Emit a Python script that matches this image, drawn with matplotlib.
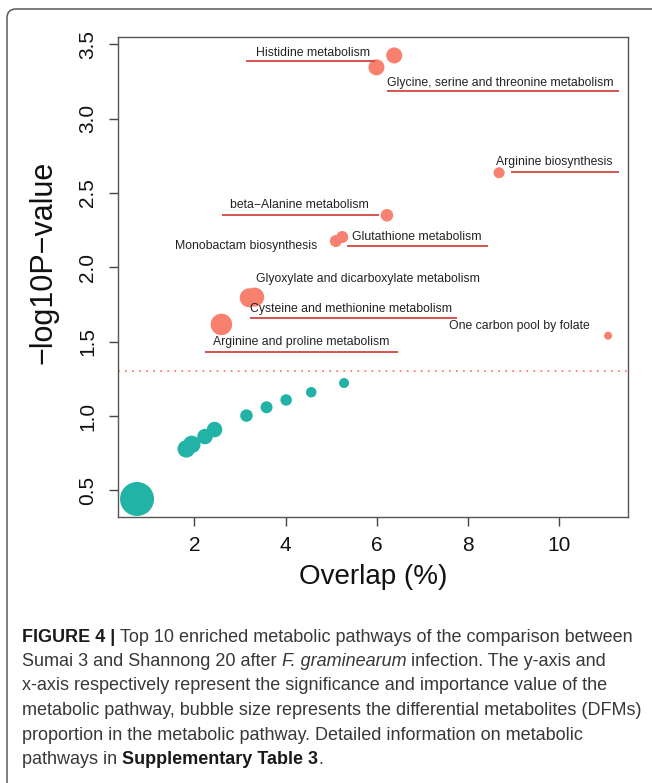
import math

import matplotlib
matplotlib.use("Agg")
import matplotlib.pyplot as plt
import matplotlib.patches as mpatches
import matplotlib.transforms as mtransforms
from matplotlib import font_manager

# ---- enriched pathways (significant, p < 0.05) ----
sig_names = [
    "Histidine metabolism",
    "Glycine, serine and threonine metabolism",
    "Arginine biosynthesis",
    "beta\u2212Alanine metabolism",
    "Glutathione metabolism",
    "Monobactam biosynthesis",
    "Glyoxylate and dicarboxylate metabolism",
    "Cysteine and methionine metabolism",
    "Arginine and proline metabolism",
    "One carbon pool by folate",
]
sig_overlap = [5.99, 6.38, 8.68, 6.22, 5.24, 5.10, 3.32, 3.20, 2.59, 11.07]
sig_logp = [3.345, 3.425, 2.636, 2.350, 2.204, 2.177, 1.800, 1.795, 1.616, 1.540]
sig_bubble = [16, 16, 11, 12.5, 12, 12, 19, 19, 21.5, 8]

# ---- remaining pathways (not significant) ----
ns_overlap = [0.74, 1.82, 1.94, 2.23, 2.44, 3.14, 3.58, 4.01, 4.56, 5.28]
ns_logp = [0.442, 0.779, 0.809, 0.862, 0.909, 1.003, 1.059, 1.108, 1.160, 1.222]
ns_bubble = [34, 17.5, 17.5, 15.5, 15.5, 12.5, 12, 11.5, 10.5, 10]

p_cutoff = 0.05
x_ticks = [2, 4, 6, 8, 10]
y_ticks = [0.5, 1.0, 1.5, 2.0, 2.5, 3.0, 3.5]

# label layout: (text x, text y, underline x0, underline x1, underline y)
label_layout = [
    (3.35, 3.439, 3.12, 5.95, 3.385),
    (6.23, 3.240, 6.23, 11.32, 3.184),
    (8.62, 2.710, 8.95, 11.30, 2.638),
    (2.77, 2.420, 2.61, 6.05, 2.352),
    (5.45, 2.204, 5.35, 8.43, 2.144),
    (1.57, 2.144, None, None, None),
    (3.34, 1.919, None, None, None),
    (3.22, 1.717, 3.22, 7.76, 1.661),
    (2.41, 1.497, 2.24, 6.47, 1.432),
    (7.58, 1.605, None, None, None),
]

W, H, DPI = 652, 783, 100
fig = plt.figure(figsize=(W / DPI, H / DPI), dpi=DPI)
fig.patch.set_facecolor("white")

available = {f.name for f in font_manager.fontManager.ttflist}
base_font = "Liberation Sans" if "Liberation Sans" in available else "DejaVu Sans"
plt.rcParams["font.family"] = [base_font, "DejaVu Sans"]

# outer frame with rounded top-left corner
frame = mpatches.FancyBboxPatch(
    (7, -60), 720, 783 - 9 + 60,
    boxstyle="round,pad=0,rounding_size=9",
    transform=mtransforms.IdentityTransform(),
    facecolor="none", edgecolor="#5a5a5a", linewidth=1.1, zorder=0,
)
fig.patches.append(frame)

ax_l, ax_r, ax_t, ax_b = 117.7, 627.7, 36.7, 516.7
ax = fig.add_axes([ax_l / W, 1 - ax_b / H, (ax_r - ax_l) / W, (ax_b - ax_t) / H])

salmon = "#F8806F"
teal = "#22B2A6"
line_red = "#D2463F"


def px_area(d):
    return (d * 72.0 / DPI) ** 2


ax.scatter(ns_overlap, ns_logp, s=[px_area(d) for d in ns_bubble],
           color=teal, edgecolors="none", zorder=3)
ax.scatter(sig_overlap, sig_logp, s=[px_area(d) for d in sig_bubble],
           color=salmon, edgecolors="none", zorder=3)

ax.axhline(-math.log10(p_cutoff), color=salmon, linewidth=1.3,
           linestyle=(0, (1, 2.9)), zorder=2)

for name, lay in zip(sig_names, label_layout):
    tx, ty, ux0, ux1, uy = lay
    ax.text(tx, ty, name, ha="left", va="center", fontsize=8.8,
            color="#222222", zorder=4)
    if ux0 is not None:
        ax.plot([ux0, ux1], [uy, uy], color=line_red, linewidth=1.3,
                solid_capstyle="butt", zorder=4)

ax.set_xlim(0.316, 11.5)
ax.set_ylim(0.323, 3.551)
ax.set_xticks(x_ticks)
ax.set_xticklabels([str(v) for v in x_ticks])
ax.set_yticks(y_ticks)
ax.set_yticklabels([f"{v:.1f}" for v in y_ticks], rotation=90, va="center")
ax.tick_params(axis="both", length=6.7, width=1.0, color="#444444",
               labelsize=15, labelcolor="#111111")
ax.tick_params(axis="x", pad=7)
ax.tick_params(axis="y", pad=8)
for sp in ax.spines.values():
    sp.set_color("#555555")
    sp.set_linewidth(1.0)

ax.set_xlabel("Overlap (%)", fontsize=20, color="#111111", labelpad=7)
fig.text(44 / W, 1 - 262 / H, "\u2212log10P\u2212value", rotation=90,
         ha="center", va="center", fontsize=22, color="#111111")

# ---- caption ----
cap_lines = [
    [("FIGURE 4 | ", "bold", "normal"),
     ("Top 10 enriched metabolic pathways of the comparison between", "normal", "normal")],
    [("Sumai 3 and Shannong 20 after ", "normal", "normal"),
     ("F. graminearum", "normal", "italic"),
     (" infection. The y-axis and", "normal", "normal")],
    [("x-axis respectively represent the significance and importance value of the", "normal", "normal")],
    [("metabolic pathway, bubble size represents the differential metabolites (DFMs)", "normal", "normal")],
    [("proportion in the metabolic pathway. Detailed information on metabolic", "normal", "normal")],
    [("pathways in ", "normal", "normal"),
     ("Supplementary Table 3", "bold", "normal"),
     (".", "normal", "normal")],
]
cap_y = [637, 661.5, 686, 710.5, 735, 759.5]
cap_x0 = 22
cap_size = 13.0

renderer = fig.canvas.get_renderer()
for pieces, yc in zip(cap_lines, cap_y):
    x = cap_x0
    for txt, weight, style in pieces:
        t = fig.text(x / W, 1 - yc / H, txt, ha="left", va="center",
                     fontsize=cap_size, fontweight=weight, fontstyle=style,
                     color="#1a1a1a" if weight == "bold" else "#383838")
        bb = t.get_window_extent(renderer=renderer)
        x += bb.width

fig.savefig("out.png", dpi=DPI, facecolor="white")
